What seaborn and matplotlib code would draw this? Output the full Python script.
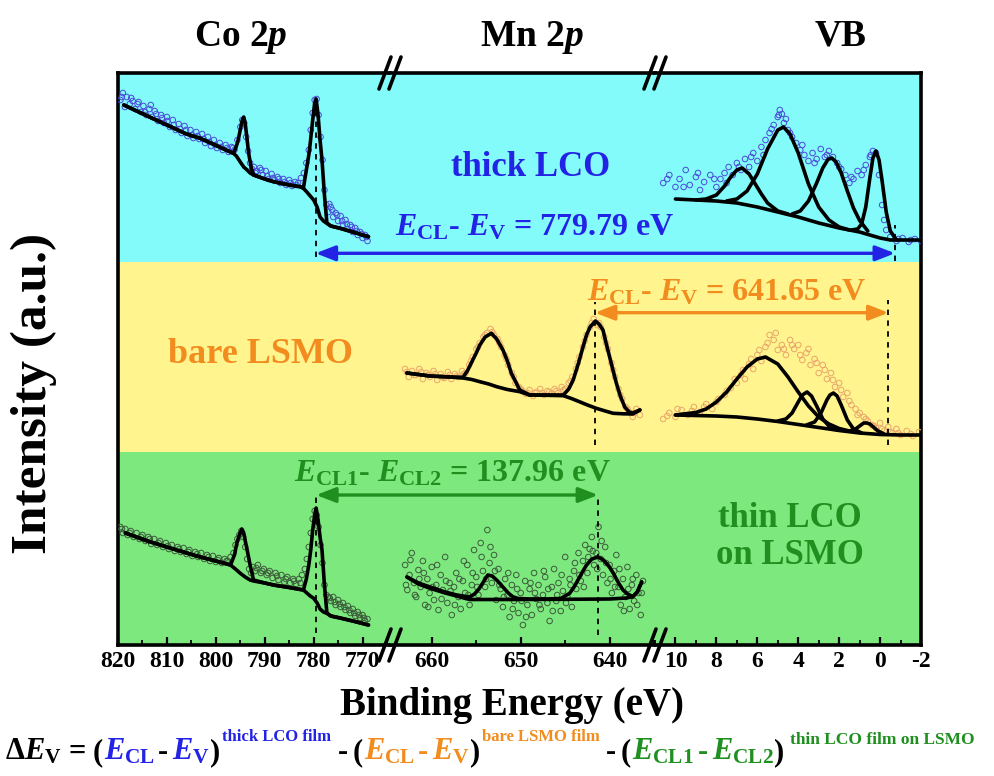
import numpy as np
import pandas as pd
import matplotlib
matplotlib.use("Agg")
import matplotlib.pyplot as plt
import seaborn as sns
from matplotlib.patches import ConnectionPatch
from matplotlib.lines import Line2D
from matplotlib.ticker import MultipleLocator

# ====================== DATA ======================
segment_titles = ["Co 2$p$", "Mn 2$p$", "VB"]
co_ticks = [820, 810, 800, 790, 780, 770]
mn_ticks = [660, 650, 640]
vb_ticks = [10, 8, 6, 4, 2, 0, -2]
vb_ticklabels = ["10", "8", "6", "4", "2", "0", "-2"]

sample_labels = ["thick LCO", "bare LSMO", "thin LCO\non LSMO"]

# ---- thick LCO : Co 2p ----
co_thick_fit_x = [818.8, 814, 810, 806, 803.2, 800, 797.5, 796.4, 796.0, 795.6, 795.3, 794.9, 794.6, 794.3,
                  794.0, 793.6, 793.3, 792.8, 792.3, 790, 788.2, 785, 782.8, 782.1, 781.5, 781.0, 780.7,
                  780.2, 779.8, 779.5, 779.1, 778.7, 778.3, 777.8, 777.3, 776.5, 774.6, 772, 768.8]
co_thick_fit_y = [540, 529, 520, 511, 506.7, 499.7, 494, 491.7, 496, 502, 508, 518, 525, 528,
                  522, 505, 492, 478, 470, 466, 463.3, 460, 458.3, 457, 475, 490, 502,
                  525, 542, 546, 530, 505, 485, 450, 422, 419, 416.7, 413, 408.3]
co_thick_bg_x = [818.8, 814, 810, 806, 803.2, 800, 797.5, 796.4, 795.8, 795.0, 794.3, 793.6, 793.0, 792.3,
                 790, 788.2, 785, 782.8, 782.1, 781.4, 780.7, 780.0, 779.3, 778.7, 778.0, 777.3, 776.5,
                 774.6, 772, 768.8]
co_thick_bg_y = [540, 529, 520, 511, 506.7, 499.7, 494, 491.7, 489, 483, 478, 475, 472, 470,
                 466, 463.3, 460, 458.3, 456.7, 453, 449, 445, 438, 428, 424, 421.7, 419,
                 416.7, 413, 408.3]
co_thick_pts_x = [819.5, 819.0, 818.6, 818.2, 817.6, 817.0, 816.5, 816.0, 815.3, 814.8, 814.2, 813.6, 813.0,
                  812.5, 811.8, 811.2, 810.6, 810.0, 809.4, 808.8, 808.2, 807.6, 807.0, 806.4, 805.8, 805.2,
                  804.6, 804.0, 803.4, 802.8, 802.2, 801.6, 801.0, 800.4, 799.8, 799.2, 798.6, 798.0, 797.4,
                  796.8, 796.2, 795.6, 795.0, 794.6, 794.2, 793.8, 793.4, 793.0, 792.6, 792.2, 791.6, 791.0,
                  790.4, 789.8, 789.2, 788.6, 788.0, 787.4, 786.8, 786.2, 785.6, 785.0, 784.4, 783.8, 783.2,
                  782.6, 782.0, 781.5, 781.0, 780.6, 780.2, 779.8, 779.4, 779.0, 778.6, 778.2, 777.8, 777.4,
                  777.0, 776.5, 776.0, 775.5, 775.0, 774.5, 774.0, 773.5, 773.0, 772.5, 772.0, 771.5, 771.0,
                  770.5, 770.0, 769.5, 769.0,
                  819.2, 817.3, 815.8, 814.5, 813.3, 812.2, 811.0, 809.9, 808.6, 807.3, 806.1, 804.9, 803.7,
                  802.5, 801.3, 800.1, 798.9, 797.7, 796.5, 791.9, 790.7, 789.5, 788.3, 787.1, 785.9, 784.7,
                  783.5, 776.8, 776.2, 775.2, 774.2, 773.2, 772.2, 771.2, 770.2, 769.2]
co_thick_pts_y = [545, 552, 538, 548, 541, 544, 536, 541, 533, 539, 530, 536, 528,
                  534, 524, 530, 522, 528, 518, 525, 515, 521, 512, 519, 509, 515,
                  507, 513, 506, 511, 502, 508, 499, 505, 497, 502, 495, 500, 493,
                  498, 495, 505, 518, 525, 522, 508, 494, 482, 476, 478, 474, 477,
                  470, 474, 466, 471, 465, 468, 462, 466, 460, 465, 459, 463, 462,
                  467, 472, 482, 495, 515, 532, 545, 546, 530, 508, 485, 455, 440,
                  433, 438, 428, 432, 424, 429, 420, 425, 416, 420, 413, 417, 410,
                  413, 407, 410, 404,
                  548, 547, 543, 533, 540, 531, 527, 524, 520, 516, 515, 510, 509,
                  506, 503, 500, 498, 497, 497, 472, 475, 469, 467, 466, 463, 462,
                  460, 441, 435, 430, 424, 421, 418, 414, 411, 408]

# ---- thick LCO : VB ----
vb_thick_bg_x = [10.0, 9, 8, 7, 6, 5, 4, 3, 2, 1, 0.5, 0, -0.5, -1, -2]
vb_thick_bg_y = [446, 445, 444, 442, 438, 433, 428, 422, 417, 413, 410, 407, 405, 405, 405]
vb_thick_c1_x = [9.0, 8.5, 8.0, 7.6, 7.3, 7.0, 6.74, 6.4, 6.1, 5.8, 5.5, 5.0, 4.5]
vb_thick_c1_y = [445, 446, 450, 459, 468, 475, 477, 471, 461, 451, 442, 434, 431]
vb_thick_c2_x = [7.5, 7.0, 6.5, 6.0, 5.5, 5.0, 4.72, 4.4, 4.0, 3.5, 3.0, 2.5, 2.0, 1.5]
vb_thick_c2_y = [444, 446, 454, 471, 496, 515, 518, 511, 492, 461, 438, 425, 418, 415]
vb_thick_c3_x = [4.3, 3.9, 3.5, 3.1, 2.8, 2.55, 2.36, 2.15, 1.9, 1.6, 1.3, 1.0, 0.6]
vb_thick_c3_y = [431, 434, 444, 462, 477, 485.5, 487, 483, 472, 454, 437, 424.5, 414]
vb_thick_c4_x = [1.4, 1.1, 0.9, 0.7, 0.5, 0.35, 0.2, 0.05, -0.1, -0.3, -0.5, -0.8]
vb_thick_c4_y = [415, 416, 421, 438, 467, 487, 494, 485, 464, 433, 414, 405]
vb_thick_pts_x = [10.6, 10.3, 10.0, 9.8, 9.5, 9.3, 9.0, 8.8, 8.6, 8.3, 8.0, 7.8, 7.6, 7.4, 7.2, 7.0, 6.8,
                  6.6, 6.4, 6.2, 6.0, 5.8, 5.6, 5.4, 5.2, 5.0, 4.9, 4.8, 4.7, 4.6, 4.5, 4.3, 4.1, 3.9,
                  3.7, 3.5, 3.3, 3.1, 2.9, 2.7, 2.5, 2.3, 2.1, 1.9, 1.7, 1.5, 1.3, 1.1, 0.9, 0.7, 0.5,
                  0.35, 0.2, 0.05, -0.1, -0.3, -0.5, -0.8, -1.1, -1.4, -1.7, -2.0,
                  10.4, 9.6, 8.9, 8.1, 7.5, 6.9, 6.3, 5.7, 5.3, 4.95, 4.4, 3.8, 3.2, 2.6, 2.0, 1.4,
                  0.8, 0.45, -0.2, -0.9, -1.5]
vb_thick_pts_y = [462, 470, 458, 466, 475, 460, 468, 455, 463, 470, 458, 466, 472, 478, 470, 482, 475,
                  486, 478, 492, 484, 498, 505, 512, 520, 528, 535, 531, 522, 526, 515, 508, 502, 495,
                  490, 484, 492, 486, 496, 488, 494, 488, 482, 476, 470, 462, 466, 474, 470, 480, 488,
                  494, 492, 470, 440, 415, 408, 404, 407, 403, 406, 404,
                  466, 458, 472, 466, 462, 478, 488, 490, 516, 530, 512, 500, 482, 490, 478, 468,
                  475, 490, 425, 406, 405]

# ---- bare LSMO : Mn 2p ----
mn_bare_fit_x = [662.8, 660.2, 658, 656.5, 656.0, 655.4, 655.0, 654.6, 654.0, 653.3, 652.7, 652.0, 651.5,
                 651.05, 650.5, 650.1, 649.0, 647, 645.2, 644.6, 644.1, 643.5, 643.0, 642.6, 642.2, 641.6,
                 641.2, 640.75, 640.4, 640.0, 639.6, 639.25, 638.8, 638.3, 637.8, 637.4, 636.6]
mn_bare_fit_y = [272, 269, 268, 267.7, 274, 285, 292, 300, 308, 311.7, 306, 295, 284,
                 271.7, 262, 255, 250, 250, 250, 256, 265, 282, 298, 310, 318, 324,
                 321, 315, 302, 288, 274, 262, 249, 238, 233, 232, 235]
mn_bare_bg_x = [662.8, 660.2, 658, 656.5, 655.5, 654.6, 653.6, 652.7, 651.5, 650.1, 649, 647, 645.2,
                644.3, 643.4, 642.5, 641.5, 640.5, 639.6, 638.5, 637.4, 636.6]
mn_bare_bg_y = [272, 269, 268, 267, 265.5, 263.3, 261, 258.3, 255.5, 253.3, 250, 249.7, 249.3,
                246.5, 243.3, 240, 236.7, 234, 231.7, 231.2, 231, 235]
mn_bare_pts_x = [663.0, 662.6, 662.2, 661.8, 661.4, 661.0, 660.6, 660.2, 659.8, 659.4, 659.0, 658.6, 658.2,
                 657.8, 657.4, 657.0, 656.6, 656.2, 655.8, 655.4, 655.0, 654.6, 654.2, 653.8, 653.4, 653.0,
                 652.6, 652.2, 651.8, 651.4, 651.0, 650.6, 650.2, 649.8, 649.4, 649.0, 648.6, 648.2, 647.8,
                 647.4, 647.0, 646.6, 646.2, 645.8, 645.4, 645.0, 644.6, 644.2, 643.8, 643.4, 643.0, 642.6,
                 642.2, 641.8, 641.4, 641.0, 640.6, 640.2, 639.8, 639.4, 639.0, 638.6, 638.2, 637.8, 637.4,
                 637.0, 636.6,
                 662.8, 662.0, 661.2, 660.4, 659.6, 658.8, 658.0, 657.2, 656.4, 655.6, 654.8, 654.0, 653.2,
                 652.4, 651.6, 650.8, 650.0, 649.2, 648.4, 647.6, 646.8, 646.0, 645.2, 644.4, 643.6, 642.8,
                 642.0, 641.2, 640.4, 639.6, 638.8, 638.0, 637.2]
mn_bare_pts_y = [276, 268, 274, 270, 276, 266, 272, 268, 274, 265, 271, 267, 273,
                 266, 271, 268, 274, 272, 280, 288, 296, 302, 308, 312, 316, 310,
                 306, 298, 290, 280, 272, 262, 258, 254, 251, 255, 249, 253, 256,
                 250, 254, 251, 256, 252, 258, 256, 262, 268, 276, 288, 298, 310,
                 318, 326, 320, 318, 308, 296, 282, 268, 256, 246, 238, 233, 228,
                 236, 230,
                 273, 270, 273, 270, 271, 268, 270, 269, 271, 284, 298, 310, 313,
                 302, 286, 268, 256, 252, 252, 252, 253, 254, 255, 264, 282, 304,
                 322, 322, 302, 275, 250, 236, 232]

# ---- bare LSMO : VB ----
vb_bare_bg_x = [10, 9, 8, 7, 6, 5, 4, 3, 2, 1, 0, -1, -2]
vb_bare_bg_y = [230, 229.5, 229, 228, 226, 223.5, 220.5, 217.5, 214.5, 212, 210.5, 210, 210]
vb_bare_c1_x = [10, 9, 8.5, 8, 7.5, 7, 6.5, 6, 5.6, 5, 4.5, 4, 3.5, 3, 2.5, 2, 1.5]
vb_bare_c1_y = [230, 232.5, 236, 243, 253, 266, 278, 286, 288, 281, 268, 253, 239, 228, 221, 216.5, 214]
vb_bare_c2_x = [5.0, 4.6, 4.3, 4.0, 3.8, 3.57, 3.35, 3.1, 2.8, 2.5, 2.1]
vb_bare_c2_y = [224, 226, 232, 243, 250, 253, 249, 239, 226, 219, 215]
vb_bare_c3_x = [3.6, 3.2, 2.9, 2.6, 2.45, 2.28, 2.1, 1.9, 1.6, 1.3, 0.9]
vb_bare_c3_y = [220, 223, 231.5, 245, 250, 252, 249, 240, 225, 216, 212]
vb_bare_c4_x = [1.5, 1.2, 1.0, 0.8, 0.65, 0.5, 0.3, 0.1, -0.2]
vb_bare_c4_y = [214, 216, 219, 222, 222, 221, 217.5, 214, 211]
vb_bare_pts_x = [10.6, 10.3, 10.0, 9.7, 9.4, 9.1, 8.8, 8.5, 8.2, 7.9, 7.6, 7.3, 7.0, 6.8, 6.6, 6.4, 6.2,
                 6.0, 5.8, 5.6, 5.4, 5.2, 5.0, 4.8, 4.6, 4.4, 4.2, 4.0, 3.8, 3.6, 3.4, 3.2, 3.0, 2.8,
                 2.6, 2.4, 2.2, 2.0, 1.8, 1.6, 1.4, 1.2, 1.0, 0.8, 0.6, 0.4, 0.2, 0.0, -0.2, -0.4,
                 -0.6, -0.8, -1.0, -1.3, -1.6, -1.9,
                 10.4, 9.9, 9.2, 8.6, 8.0, 7.5, 7.1, 6.7, 6.3, 5.9, 5.5, 5.1, 4.7, 4.3, 3.9, 3.5,
                 3.1, 2.7, 2.3, 1.9, 1.5, 1.1, 0.7, 0.3, -0.1, -0.5, -0.9, -1.5]
vb_bare_pts_y = [226, 232, 228, 235, 230, 238, 233, 241, 236, 246, 250, 257, 262, 270, 266, 281, 276,
                 290, 284, 298, 310, 305, 295, 300, 290, 305, 296, 300, 285, 292, 280, 286, 272, 280,
                 266, 272, 258, 262, 248, 252, 240, 236, 232, 228, 224, 220, 217, 222, 214, 218,
                 212, 216, 210, 214, 209, 213,
                 229, 236, 234, 238, 243, 254, 266, 275, 286, 295, 302, 312, 296, 300, 290, 296,
                 282, 275, 265, 255, 244, 230, 226, 219, 216, 213, 212, 211]

# ---- thin LCO on LSMO : Co 2p ----
co_thin_fit_x = [818.5, 814, 810, 806, 803.2, 800, 797, 796.2, 795.7, 795.2, 794.7, 794.3, 793.9, 793.6,
                 793.0, 792.3, 790, 788.2, 785, 782.1, 781.5, 781.0, 780.6, 780.2, 779.8, 779.5, 779.1,
                 778.7, 778.3, 777.8, 777.3, 776.5, 774.6, 772, 768.8]
co_thin_fit_y = [112, 104, 98, 92, 88, 84, 80, 90, 102, 110, 116, 112, 102, 95,
                 80, 65, 62, 60, 57.5, 55, 66, 80, 95, 115, 130, 137, 125,
                 108, 95, 60, 32, 29, 27, 24, 20]
co_thin_bg_x = [818.5, 814, 810, 806, 803.2, 800, 797, 796, 795, 794, 793, 792.3, 790, 788.2, 785,
                782.1, 781.4, 780.7, 780.0, 779.3, 778.7, 778.0, 777.3, 776.5, 774.6, 772, 768.8]
co_thin_bg_y = [112, 104, 98, 92, 88, 84, 80, 76, 71.7, 68, 65, 64, 62, 60, 57.5,
                55, 52, 49, 46.7, 42, 36, 33, 31.7, 29, 27, 24, 20]
co_thin_pts_x = [819.5, 819.0, 818.5, 818.0, 817.4, 816.8, 816.2, 815.6, 815.0, 814.4, 813.8, 813.2, 812.6,
                 812.0, 811.4, 810.8, 810.2, 809.6, 809.0, 808.4, 807.8, 807.2, 806.6, 806.0, 805.4, 804.8,
                 804.2, 803.6, 803.0, 802.4, 801.8, 801.2, 800.6, 800.0, 799.4, 798.8, 798.2, 797.6, 797.0,
                 796.4, 796.0, 795.6, 795.2, 794.8, 794.4, 794.0, 793.6, 793.2, 792.8, 792.4, 792.0, 791.4,
                 790.8, 790.2, 789.6, 789.0, 788.4, 787.8, 787.2, 786.6, 786.0, 785.4, 784.8, 784.2, 783.6,
                 783.0, 782.4, 781.8, 781.4, 781.0, 780.6, 780.2, 779.8, 779.4, 779.0, 778.6, 778.2, 777.8,
                 777.4, 777.0, 776.5, 776.0, 775.5, 775.0, 774.5, 774.0, 773.5, 773.0, 772.5, 772.0, 771.5,
                 771.0, 770.5, 770.0, 769.5, 769.0,
                 819.2, 817.6, 815.3, 813.5, 811.7, 809.8, 807.5, 805.6, 803.8, 801.5, 799.6, 797.8, 791.7,
                 790.5, 789.3, 787.5, 785.7, 784.0, 782.7, 776.7, 775.7, 774.7, 773.7, 772.7, 771.7, 770.7,
                 769.7]
co_thin_pts_y = [118, 112, 116, 110, 114, 108, 112, 106, 110, 104, 108, 101, 106,
                 100, 104, 98, 102, 96, 100, 94, 98, 93, 97, 91, 95, 89,
                 93, 88, 92, 86, 90, 84, 89, 83, 87, 82, 86, 84, 88,
                 92, 100, 106, 110, 114, 108, 98, 86, 76, 72, 78, 74, 80,
                 72, 76, 70, 74, 67, 72, 65, 70, 63, 68, 62, 66, 61,
                 66, 70, 76, 86, 98, 112, 126, 134, 130, 118, 100, 82, 60,
                 50, 48, 44, 48, 40, 45, 38, 42, 35, 39, 32, 36, 29,
                 33, 27, 30, 24, 26,
                 116, 112, 108, 106, 102, 99, 96, 93, 91, 88, 85, 84, 77,
                 74, 72, 69, 66, 64, 62, 47, 43, 41, 38, 35, 32, 30,
                 27]

# ---- thin LCO on LSMO : Mn 2p ----
mn_thin_fit_x = [662.8, 661.5, 660.2, 658.5, 657.2, 656.2, 655.7, 655.2, 654.7, 654.2, 653.7, 653.2, 652.6,
                 652.0, 651.4, 650.9, 650.3, 649, 647, 645.5, 644.5, 644.0, 643.5, 643.0, 642.6, 642.0,
                 641.3, 640.7, 640.1, 639.6, 639.0, 638.5, 638.1, 637.4, 636.9, 636.4]
mn_thin_fit_y = [68, 62, 58, 53, 50, 48.5, 48.3, 51, 56, 63, 70, 69, 64,
                 58, 52, 48.3, 46.5, 46, 46, 46.5, 51.7, 58, 66, 74, 80, 86,
                 88, 85, 79, 72, 62, 55, 51.7, 48.3, 53, 63]
mn_thin_bg_x = [662.8, 661.5, 660.2, 658.5, 657.2, 656.2, 655.7, 650, 645, 640, 638.1, 637.4, 636.9, 636.4]
mn_thin_bg_y = [68, 61, 56.7, 52, 49, 46.5, 45.5, 45.5, 45.7, 46, 47, 48.3, 53, 63]
mn_thin_pts_x = [663.0, 662.75, 662.5, 662.25, 662.0, 661.75, 661.5, 661.25, 661.0, 660.75, 660.5, 660.25,
                 660.0, 659.75, 659.5, 659.25, 659.0, 658.75, 658.5, 658.25, 658.0, 657.75, 657.5, 657.25,
                 657.0, 656.75, 656.5, 656.25, 656.0, 655.75, 655.5, 655.25, 655.0, 654.75, 654.5, 654.25,
                 654.0, 653.75, 653.5, 653.25, 653.0, 652.75, 652.5, 652.25, 652.0, 651.75, 651.5, 651.25,
                 651.0, 650.75, 650.5, 650.25, 650.0, 649.75, 649.5, 649.25, 649.0, 648.75, 648.5, 648.25,
                 648.0, 647.75, 647.5, 647.25, 647.0, 646.75, 646.5, 646.25, 646.0, 645.75, 645.5, 645.25,
                 645.0, 644.75, 644.5, 644.25, 644.0, 643.75, 643.5, 643.25, 643.0, 642.75, 642.5, 642.25,
                 642.0, 641.75, 641.5, 641.25, 641.0, 640.75, 640.5, 640.25, 640.0, 639.75, 639.5, 639.25,
                 639.0, 638.75, 638.5, 638.25, 638.0, 637.75, 637.5, 637.25, 637.0, 636.75, 636.5, 636.25,
                 662.9, 662.4, 661.9, 661.4, 660.9, 660.4, 659.9, 659.4, 658.9, 658.4, 657.9, 657.4, 656.9,
                 656.4, 655.9, 655.4, 654.9, 654.4, 653.9, 653.4, 652.9, 652.4, 651.9, 651.4, 650.9, 650.4,
                 649.9, 649.4, 648.9, 648.4, 647.9, 647.4, 646.9, 646.4, 645.9, 645.4, 644.9, 644.4, 643.9,
                 643.4, 642.9, 642.4, 641.9, 641.4, 640.9, 640.4, 639.9, 639.4, 638.9, 638.4, 637.9, 637.4,
                 636.9, 636.4]
mn_thin_pts_y = [80, 55, 70, 92, 62, 48, 75, 58, 84, 40, 66, 52,
                 78, 45, 60, 35, 70, 55, 88, 42, 62, 30, 58, 72,
                 48, 36, 64, 52, 80, 40, 60, 95, 68, 50, 102, 74,
                 58, 115, 82, 62, 90, 45, 76, 56, 38, 66, 50, 28,
                 60, 44, 70, 32, 52, 20, 64, 40, 56, 30, 72, 46,
                 60, 36, 50, 68, 42, 24, 58, 76, 44, 62, 34, 54,
                 88, 48, 66, 38, 74, 56, 92, 64, 84, 100, 72, 96,
                 108, 80, 92, 118, 86, 70, 98, 62, 80, 52, 74, 90,
                 58, 40, 66, 48, 78, 36, 60, 44, 70, 52, 30, 64,
                 60, 85, 50, 66, 72, 38, 58, 80, 46, 64, 54, 40, 66,
                 84, 50, 72, 58, 88, 66, 98, 74, 60, 48, 72, 36, 56,
                 44, 28, 62, 52, 40, 74, 56, 34, 50, 70, 42, 60, 82,
                 70, 58, 88, 94, 76, 104, 82, 66, 58, 76, 34, 56, 66,
                 40, 52]

# characteristic energies (eV) and the levels of the double arrows
co_thick_ecl, vb_thick_ev = 779.6, -0.73
mn_bare_ecl, vb_bare_ev = 641.65, -0.41
co_thin_ecl1, mn_thin_ecl2 = 779.5, 641.3
diff_labels = [r"$E_{\rm CL}$- $E_{\rm V}$ = 779.79 eV",
               r"$E_{\rm CL}$- $E_{\rm V}$ = 641.65 eV",
               r"$E_{\rm CL1}$- $E_{\rm CL2}$ = 137.96 eV"]

# ====================== STYLE ======================
sns.set_theme(style="ticks")
plt.rcParams["font.family"] = ["Liberation Serif", "DejaVu Serif"]
plt.rcParams["font.weight"] = "bold"
plt.rcParams["text.color"] = "black"
plt.rcParams["axes.labelcolor"] = "black"
plt.rcParams["xtick.color"] = "black"
plt.rcParams["ytick.color"] = "black"
plt.rcParams["mathtext.fontset"] = "custom"
plt.rcParams["mathtext.rm"] = "Liberation Serif:bold"
plt.rcParams["mathtext.it"] = "Liberation Serif:italic:bold"
plt.rcParams["mathtext.bf"] = "Liberation Serif:bold"
plt.rcParams["axes.unicode_minus"] = False

CYAN, YELLOW, GREEN = "#84fbfb", "#fff48e", "#7de87d"
BLUE, ORANGE, DGREEN = "#2323e6", "#f28c1e", "#1f8f1f"
PT_BLUE, PT_ORANGE, PT_GREEN = "#4a4ad8", "#eaa56c", "#3c5a3c"
LW = 2.6

W, H = 994, 776
fig = plt.figure(figsize=(W / 100, H / 100), dpi=100)
fig.patch.set_facecolor("white")


def fx(px):
    return px / W


def fy(py):
    return 1 - py / H


edges = [118, 390, 655, 921]
top_px, bot_px = 73, 645
axes = []
for i in range(3):
    ax = fig.add_axes([fx(edges[i]), fy(bot_px), fx(edges[i + 1]) - fx(edges[i]), fy(top_px) - fy(bot_px)])
    axes.append(ax)
ax_co, ax_mn, ax_vb = axes

for ax in axes:
    ax.set_ylim(0, 572)
    ax.axhspan(0, 193, color=GREEN, zorder=0, lw=0)
    ax.axhspan(193, 383, color=YELLOW, zorder=0, lw=0)
    ax.axhspan(383, 572, color=CYAN, zorder=0, lw=0)
    ax.set_yticks([])
    for s in ["top", "bottom", "left", "right"]:
        ax.spines[s].set_linewidth(2.6)
        ax.spines[s].set_color("black")
    ax.tick_params(axis="x", which="major", direction="in", length=6, width=1.6, pad=4,
                   labelsize=17, bottom=True, top=False, colors="black")
    ax.tick_params(axis="x", which="minor", direction="in", length=3.5, width=1.3,
                   bottom=True, top=False, colors="black")
    ax.tick_params(axis="y", left=False, right=False)

ax_co.spines["right"].set_visible(False)
ax_mn.spines["left"].set_visible(False)
ax_mn.spines["right"].set_visible(False)
ax_vb.spines["left"].set_visible(False)

ax_co.set_xlim(820, 764.4)
ax_co.set_xticks(co_ticks)
ax_co.xaxis.set_minor_locator(MultipleLocator(5))
ax_mn.set_xlim(664.7, 634.9)
ax_mn.set_xticks(mn_ticks)
ax_mn.xaxis.set_minor_locator(MultipleLocator(5))
ax_vb.set_xlim(11, -2)
ax_vb.set_xticks(vb_ticks)
ax_vb.set_xticklabels(vb_ticklabels)
ax_vb.xaxis.set_minor_locator(MultipleLocator(1))


def pts(ax, x, y, c):
    sns.scatterplot(x=np.array(x), y=np.array(y), ax=ax, marker="o", s=16, color=c,
                    facecolor="none", edgecolor=c, linewidth=0.7, zorder=3)


def line(ax, x, y):
    sns.lineplot(x=np.array(x), y=np.array(y), ax=ax, sort=False, estimator=None,
                 color="black", linewidth=LW, zorder=4)


# spectra
pts(ax_co, co_thick_pts_x, co_thick_pts_y, PT_BLUE)
line(ax_co, co_thick_bg_x, co_thick_bg_y)
line(ax_co, co_thick_fit_x, co_thick_fit_y)
pts(ax_vb, vb_thick_pts_x, vb_thick_pts_y, PT_BLUE)
line(ax_vb, vb_thick_bg_x, vb_thick_bg_y)
for cx, cy in [(vb_thick_c1_x, vb_thick_c1_y), (vb_thick_c2_x, vb_thick_c2_y),
               (vb_thick_c3_x, vb_thick_c3_y), (vb_thick_c4_x, vb_thick_c4_y)]:
    line(ax_vb, cx, cy)

pts(ax_mn, mn_bare_pts_x, mn_bare_pts_y, PT_ORANGE)
line(ax_mn, mn_bare_bg_x, mn_bare_bg_y)
line(ax_mn, mn_bare_fit_x, mn_bare_fit_y)
pts(ax_vb, vb_bare_pts_x, vb_bare_pts_y, PT_ORANGE)
line(ax_vb, vb_bare_bg_x, vb_bare_bg_y)
for cx, cy in [(vb_bare_c1_x, vb_bare_c1_y), (vb_bare_c2_x, vb_bare_c2_y),
               (vb_bare_c3_x, vb_bare_c3_y), (vb_bare_c4_x, vb_bare_c4_y)]:
    line(ax_vb, cx, cy)

pts(ax_co, co_thin_pts_x, co_thin_pts_y, PT_GREEN)
line(ax_co, co_thin_bg_x, co_thin_bg_y)
line(ax_co, co_thin_fit_x, co_thin_fit_y)
pts(ax_mn, mn_thin_pts_x, mn_thin_pts_y, PT_GREEN)
line(ax_mn, mn_thin_bg_x, mn_thin_bg_y)
line(ax_mn, mn_thin_fit_x, mn_thin_fit_y)

# dashed reference lines
dash = dict(colors="black", linestyles=(0, (3, 3)), linewidth=1.3, zorder=5)
ax_co.vlines(co_thick_ecl, 388, 546, **dash)
ax_vb.vlines(vb_thick_ev, 384, 420, **dash)
ax_mn.vlines(mn_bare_ecl, 200, 343, **dash)
ax_vb.vlines(vb_bare_ev, 200, 345, **dash)
ax_co.vlines(co_thin_ecl1, 12, 150, **dash)
ax_mn.vlines(mn_thin_ecl2, 10, 150, **dash)

# double arrows
arrows = [(ax_co, co_thick_ecl, ax_vb, vb_thick_ev, 391.7, BLUE),
          (ax_mn, mn_bare_ecl, ax_vb, vb_bare_ev, 332.3, ORANGE),
          (ax_co, co_thin_ecl1, ax_mn, mn_thin_ecl2, 150, DGREEN)]
for axA, xA, axB, xB, yv, col in arrows:
    con = ConnectionPatch(xyA=(xA, yv), coordsA="data", axesA=axA,
                          xyB=(xB, yv), coordsB="data", axesB=axB,
                          arrowstyle="<|-|>,head_length=0.9,head_width=0.35",
                          mutation_scale=13, lw=2.4, color=col, shrinkA=0, shrinkB=0, zorder=6)
    fig.add_artist(con)

# break marks
for bx in [edges[1], edges[2]]:
    for by in [top_px, bot_px]:
        for off in [-5, 5]:
            fig.add_artist(Line2D([fx(bx + off - 6), fx(bx + off + 6)], [fy(by + 16), fy(by - 16)],
                                  transform=fig.transFigure, color="black", lw=2.6, zorder=10))

# texts
title_x = [241, 532, 841]
for t, x in zip(segment_titles, title_x):
    fig.text(fx(x), fy(46), t, fontsize=27, ha="center", va="baseline")

fig.text(fx(531), fy(168), sample_labels[0], fontsize=25, color=BLUE, ha="center", va="center")
fig.text(fx(260), fy(355), sample_labels[1], fontsize=26, color=ORANGE, ha="center", va="center")
fig.text(fx(790), fy(537), sample_labels[2], fontsize=25, color=DGREEN, ha="center", va="center",
         linespacing=1.15)

fig.text(fx(535), fy(235), diff_labels[0], fontsize=23, color=BLUE, ha="center", va="baseline")
fig.text(fx(727), fy(301), diff_labels[1], fontsize=23, color=ORANGE, ha="center", va="baseline")
fig.text(fx(452), fy(482), diff_labels[2], fontsize=23, color=DGREEN, ha="center", va="baseline")

fig.text(fx(34), fy(393), "Intensity (a.u.)", fontsize=37, rotation=90, ha="center", va="center")
fig.text(fx(512), fy(706), "Binding Energy (eV)", fontsize=28, ha="center", va="center")

# bottom formula (coloured pieces laid out one after another)
renderer = fig.canvas.get_renderer()
FS, SS = 22, 12
pieces = [
    (r"$\Delta E_{\rm V}$", "black", FS, 0, 7),
    ("=", "black", FS, 0, 7),
    ("(", "black", FS, 0, 1),
    (r"$E_{\rm CL}$", BLUE, FS, 0, 3),
    ("-", "black", FS, 0, 4),
    (r"$E_{\rm V}$", BLUE, FS, 0, 0),
    (")", "black", FS, 0, 2),
    ("thick LCO film", BLUE, SS, 19, 6),
    ("-", "black", FS, 0, 5),
    ("(", "black", FS, 0, 1),
    (r"$E_{\rm CL}$", ORANGE, FS, 0, 3),
    ("-", ORANGE, FS, 0, 4),
    (r"$E_{\rm V}$", ORANGE, FS, 0, 0),
    (")", "black", FS, 0, 2),
    ("bare LSMO film", ORANGE, SS, 19, 6),
    ("-", "black", FS, 0, 5),
    ("(", "black", FS, 0, 1),
    (r"$E_{\rm CL1}$", DGREEN, FS, 0, 4),
    ("-", DGREEN, FS, 0, 4),
    (r"$E_{\rm CL2}$", DGREEN, FS, 0, 0),
    (")", "black", FS, 0, 6),
    ("thin LCO film on LSMO", DGREEN, 12.5, 16, 0),
]
xpos = 5
base_py = 760
for s, c, size, rise, gap in pieces:
    t = fig.text(fx(xpos), fy(base_py - rise), s, color=c, fontsize=size, ha="left", va="baseline")
    bb = t.get_window_extent(renderer=renderer)
    xpos += bb.width + gap

fig.savefig("out.png", dpi=100, facecolor="white")
